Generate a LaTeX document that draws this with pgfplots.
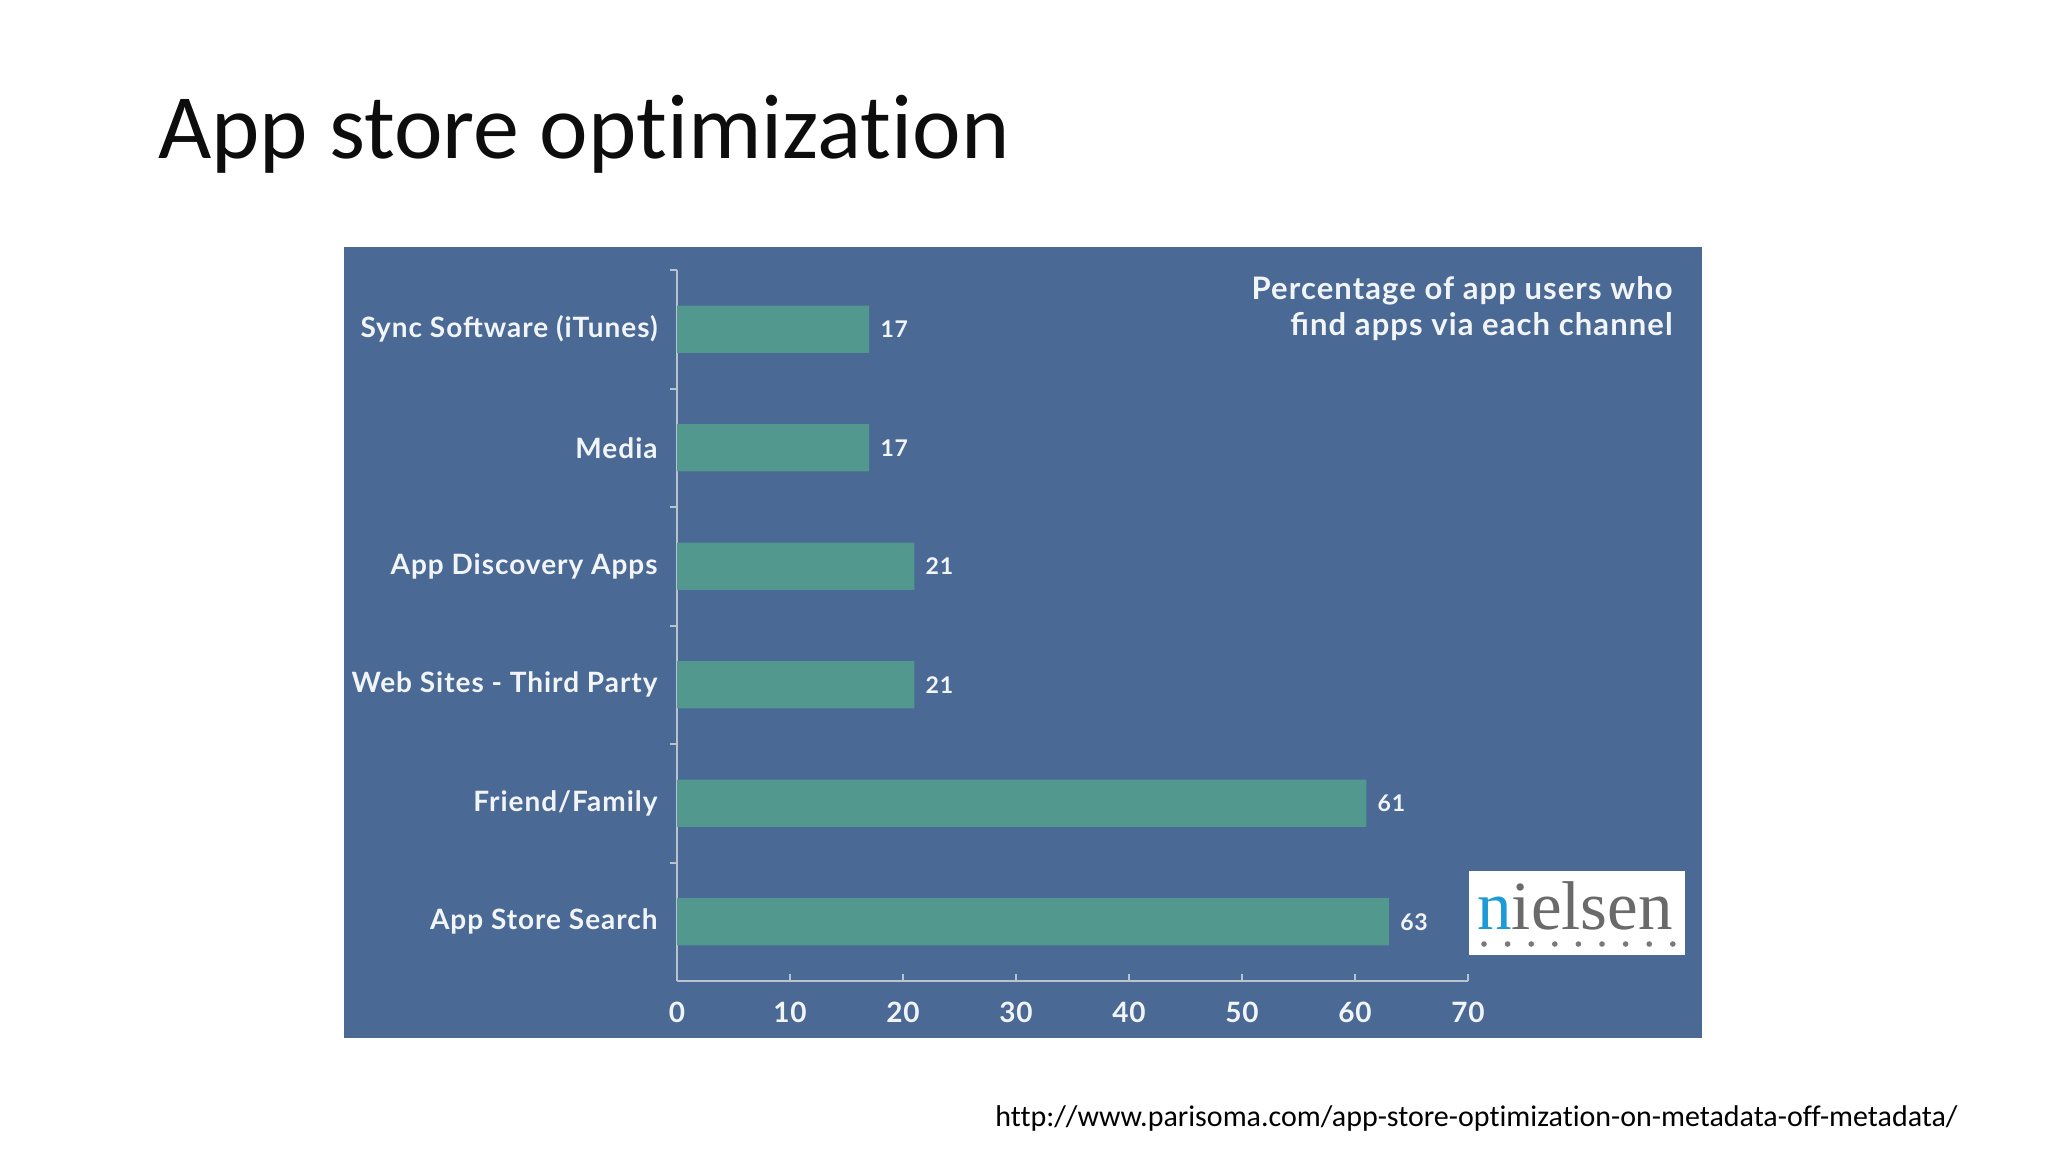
\documentclass[border=0pt]{standalone}
\usepackage{pgfplots}
\pgfplotsset{compat=1.18}
\usepackage{fontspec}
\setmainfont{Carlito}[Ligatures=NoCommon]
\newfontfamily\chartfont{Lato}[LetterSpace=3.5]
\newfontfamily\logofont{Liberation Serif}
\definecolor{panelblue}{HTML}{4A6994}
\definecolor{barteal}{HTML}{52988F}
\definecolor{axisgray}{HTML}{B9C3CF}
\definecolor{labelwhite}{HTML}{F2F5F8}
\definecolor{logoblue}{HTML}{1E9BD7}
\definecolor{logogray}{HTML}{6A6A6A}
\begin{document}
\begin{tikzpicture}[x=0.5pt,y=-0.5pt]
\path[use as bounding box, fill=white] (0,0) rectangle (2048,1152);
% title
\node[anchor=base west, inner sep=0pt, font=\fontsize{46}{50}\selectfont, text=black!95] at (158,158) {App store optimization};
% panel
\fill[panelblue] (344,247) rectangle (1702,1038);
\coordinate (axO) at (677,981);
\begin{axis}[
  at={(axO)}, anchor=south west, scale only axis,
  width=395.5pt, height=355.5pt,
  xbar, bar width=0.4,
  xmin=0, xmax=70, ymin=-0.5, ymax=5.5,
  xtick={0,10,...,70},
  ytick={0,...,5},
  yticklabels={App Store Search, Friend/Family, Web Sites - Third Party, App Discovery Apps, Media, Sync Software (iTunes)},
  axis x line*=bottom, axis y line*=left,
  axis line style={draw=axisgray, line width=1.2pt, -},
  x tick style={draw=axisgray, line width=1pt},
  y tick style={draw=none},
  tick align=inside,
  major tick length=3.5pt,
  extra y ticks={0.5,1.5,2.5,3.5,4.5,5.5},
  extra y tick labels={},
  extra y tick style={tick align=outside, y tick style={draw=axisgray, line width=1pt}},
  xticklabel style={font=\chartfont\bfseries\fontsize{14}{16}\selectfont, text=labelwhite, anchor=center, yshift=-15.5pt},
  yticklabel style={font=\chartfont\bfseries\fontsize{14}{16}\selectfont, text=labelwhite, anchor=east, inner sep=0pt, xshift=-9.5pt},
  /pgf/number format/assume math mode=true,
]
\addplot[fill=barteal, draw=none,
  nodes near coords,
  nodes near coords style={font=\chartfont\bfseries\fontsize{11.5}{13}\selectfont, text=labelwhite, anchor=west, inner sep=0pt, xshift=5.5pt}]
  coordinates {(63,0) (61,1) (21,2) (21,3) (17,4) (17,5)};
\end{axis}
% subtitle
\node[anchor=base east, inner sep=0pt, font=\chartfont\bfseries\fontsize{15.5}{18}\selectfont, text=labelwhite] at (1673,299) {Percentage of app users who};
\node[anchor=base east, inner sep=0pt, font=\chartfont\bfseries\fontsize{15.5}{18}\selectfont, text=labelwhite] at (1673,335) {find apps via each channel};
% logo
\fill[white] (1469,871) rectangle (1685,955);
\node[anchor=base west, inner sep=0pt, font=\logofont\fontsize{34.5}{36}\selectfont, text=logogray] at (1477,929) {\textcolor{logoblue}{n}ielsen};
\foreach \i in {0,...,8} \fill[logogray!90] ({1484+23.6*\i},944) circle (2.8);
% url
\node[anchor=base west, inner sep=0pt, font=\fontsize{15}{17}\selectfont, text=black] at (995,1126) {http://www.parisoma.com/app-store-optimization-on-metadata-off-metadata/};
\end{tikzpicture}
\end{document}
